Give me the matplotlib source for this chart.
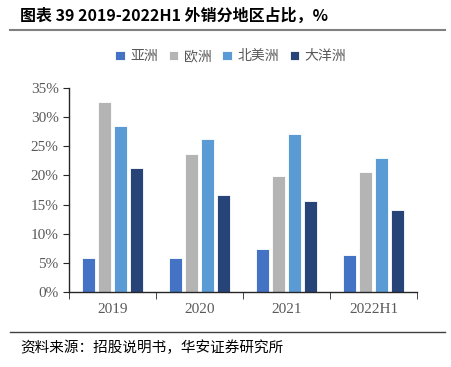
import matplotlib
matplotlib.use("Agg")
import matplotlib.pyplot as plt
import numpy as np
from matplotlib.lines import Line2D

categories = ["2019", "2020", "2021", "2022H1"]
series_names = ["亚洲", "欧洲", "北美洲", "大洋洲"]
asia = [5.9, 5.9, 7.4, 6.3]
europe = [32.6, 23.7, 19.9, 20.6]
north_america = [28.5, 26.3, 27.1, 23.0]
oceania = [21.3, 16.6, 15.6, 14.1]
yticks = [0, 5, 10, 15, 20, 25, 30, 35]

colors = ["#4472C4", "#B4B4B4", "#5B9BD5", "#264478"]
cjk = ["Noto Sans CJK SC", "DejaVu Sans"]

fig = plt.figure(figsize=(4.52, 3.67), dpi=100)
ax = fig.add_axes([0.1527, 0.2044, 0.770, 0.5558])

x = np.arange(len(categories))
width = 0.15
step = 0.184
data = [asia, europe, north_america, oceania]
for i, (vals, c, name) in enumerate(zip(data, colors, series_names)):
    ax.bar(x + (i - 1.5) * step, vals, width, color=c, edgecolor="white",
           linewidth=0.6, label=name, zorder=2)

ax.set_xlim(-0.5, 3.5)
ax.set_ylim(0, 35)
ax.set_yticks(yticks)
ax.set_yticklabels([f"{v}%" for v in yticks], fontfamily="Liberation Serif",
                   fontsize=11, color="#595959")
ax.set_xticks(x)
ax.set_xticklabels(categories, fontfamily="Liberation Serif", fontsize=11,
                   color="#595959")
ax.tick_params(axis="x", length=0, pad=8)
ax.set_xticks(np.arange(-0.5, 4.0, 1.0), minor=True)
ax.tick_params(axis="x", which="minor", length=5, direction="out", color="#262626")
ax.tick_params(axis="y", length=4, direction="out", color="#262626")
for s in ["top", "right"]:
    ax.spines[s].set_visible(False)
ax.spines["left"].set_color("#262626")
ax.spines["bottom"].set_color("#262626")
ax.spines["left"].set_linewidth(1.0)
ax.spines["bottom"].set_linewidth(1.0)

leg = ax.legend(loc="lower center", bbox_to_anchor=(0.465, 1.06), ncol=4,
                frameon=False, prop={"family": cjk, "size": 10},
                handlelength=0.7, handleheight=0.7, handletextpad=0.4,
                columnspacing=0.75)
for t in leg.get_texts():
    t.set_color("#595959")

fig.text(0.044, 0.958, "图表 39 2019-2022H1 外销分地区占比，%", fontfamily=cjk,
         fontsize=11.5, fontweight="bold", va="center", ha="left", color="#000000")
fig.add_artist(Line2D([0.022, 0.985], [0.918, 0.918], transform=fig.transFigure,
                      color="#808080", linewidth=1.5))
fig.add_artist(Line2D([0.022, 0.985], [0.095, 0.095], transform=fig.transFigure,
                      color="#404040", linewidth=1.0))
fig.text(0.044, 0.053, "资料来源：招股说明书，华安证券研究所", fontfamily=cjk,
         fontsize=10.5, va="center", ha="left", color="#000000")

fig.savefig("out.png", dpi=100)
